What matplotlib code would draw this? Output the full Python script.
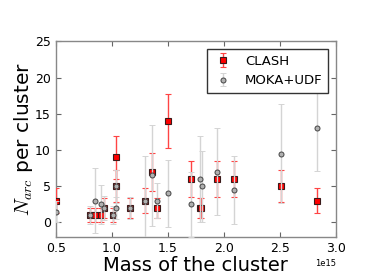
import matplotlib
matplotlib.use("Agg")
import matplotlib.pyplot as plt

plt.rcParams['mathtext.fontset'] = 'cm'
plt.rcParams['font.family'] = ['DejaVu Sans']

# Cluster masses (in Msun/h)
clash_mass = [0.50e15, 0.807e15, 0.853e15, 0.907e15, 0.93e15, 1.013e15, 1.035e15, 1.035e15,
              1.163e15, 1.30e15, 1.355e15, 1.407e15, 1.505e15, 1.705e15, 1.785e15, 1.80e15,
              1.935e15, 2.095e15, 2.51e15, 2.83e15]
clash_narc = [3, 1, 1, 1, 2, 1, 9, 5, 2, 3, 7, 2, 14, 6, 2, 2, 6, 6, 5, 3]
clash_err = [1.73, 1.0, 1.0, 1.0, 1.41, 1.0, 3.0, 2.24, 1.41, 1.73, 2.65, 1.41, 3.74, 2.45,
             1.41, 1.41, 2.45, 2.45, 2.24, 1.73]

moka_mass = [0.50e15, 0.807e15, 0.853e15, 0.907e15, 0.93e15, 1.013e15, 1.035e15, 1.035e15,
             1.163e15, 1.30e15, 1.355e15, 1.407e15, 1.505e15, 1.705e15, 1.785e15, 1.805e15,
             1.935e15, 2.095e15, 2.51e15, 2.83e15]
moka_narc = [1.5, 1, 3, 2.5, 2, 1, 5, 2, 2, 3, 6.5, 3, 4, 2.5, 6, 5, 7, 4.5, 9.5, 13]
moka_err = [1.5, 1.2, 4.5, 2.7, 1.6, 1.2, 2.3, 1.5, 1.5, 6.2, 7.0, 2.4, 4.6, 4.5, 6.0, 4.9,
            6.0, 4.7, 6.8, 5.9]

fig = plt.figure(figsize=(3.74, 2.80), dpi=100)
ax = fig.add_axes([0.149, 0.154, 0.749, 0.698])

ax.errorbar(clash_mass, clash_narc, yerr=clash_err, fmt='s', color='red',
            mfc='red', mec='#3a1a1a', mew=0.8, ms=4.2, ecolor='#ff4444',
            elinewidth=1.0, capsize=2, capthick=0.8, label='CLASH', zorder=3)
ax.errorbar(moka_mass, moka_narc, yerr=moka_err, fmt='o', color='#999999',
            mfc='#b0b0b0', mec='#444444', mew=0.7, ms=3.6, ecolor='#d4d4d4',
            elinewidth=1.0, capsize=2, capthick=0.8, label='MOKA+UDF', zorder=4)

ax.set_xlim(0.5e15, 3.0e15)
ax.set_ylim(-2, 25)
ax.set_xticks([0.5e15, 1.0e15, 1.5e15, 2.0e15, 2.5e15, 3.0e15])
ax.set_yticks([0, 5, 10, 15, 20, 25])

for s in ax.spines.values():
    s.set_color('#888888')
    s.set_linewidth(1.0)
ax.tick_params(direction='in', length=3.5, width=0.8, color='#666666',
               labelsize=9, top=True, right=True, pad=3.5)
ax.xaxis.get_offset_text().set_fontsize(6)

ax.set_xlabel('Mass of the cluster', fontsize=14, labelpad=1)
ax.set_ylabel('$N_{arc}$ per cluster', fontsize=14.5, labelpad=0)

leg = ax.legend(loc='upper right', numpoints=1, fontsize=9.5, fancybox=False,
                handlelength=1.6, handletextpad=0.9, framealpha=1,
                borderaxespad=0.6)
leg.get_frame().set_edgecolor('#333333')
leg.get_frame().set_linewidth(1.0)

fig.savefig('out.png', dpi=100)
